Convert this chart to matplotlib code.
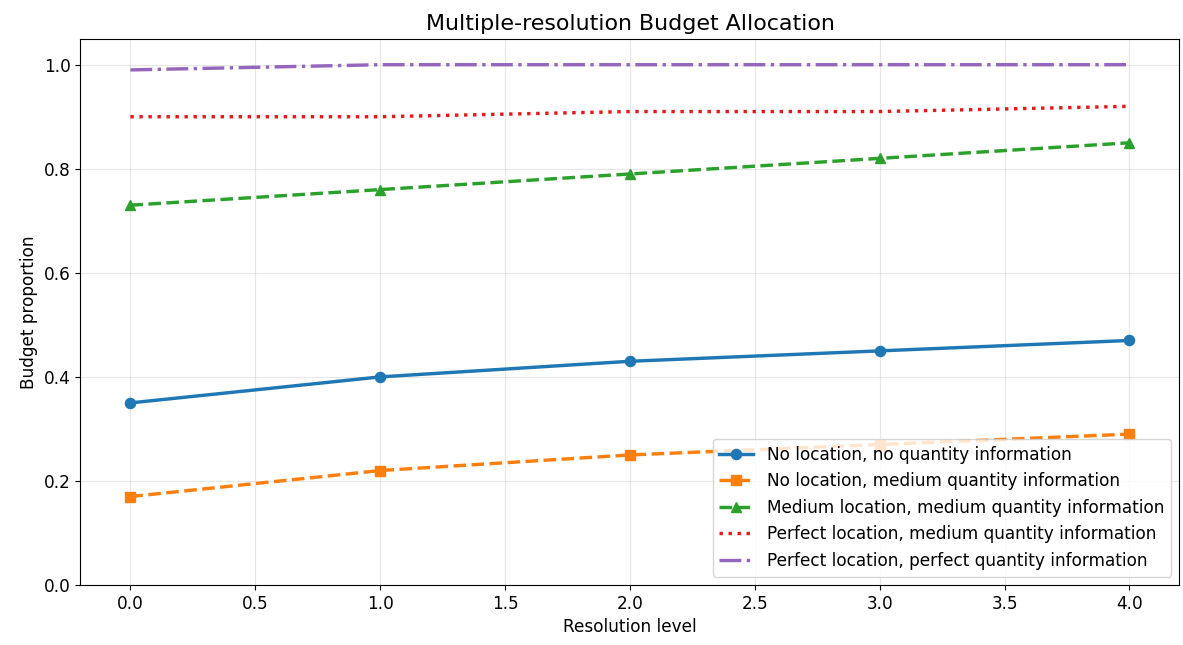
import matplotlib
matplotlib.use("Agg")
import matplotlib.pyplot as plt

# ── data ─────────────────────────────────────────────
levels = [0, 1, 2, 3, 4]
no_loc_no_qty = [0.35, 0.40, 0.43, 0.45, 0.47]
no_loc_med_qty = [0.17, 0.22, 0.25, 0.27, 0.29]
med_loc_med_qty = [0.73, 0.76, 0.79, 0.82, 0.85]
perf_loc_med_qty = [0.90, 0.90, 0.91, 0.91, 0.92]
perf_loc_perf_qty = [0.99, 1.00, 1.00, 1.00, 1.00]

plt.rcParams["font.size"] = 12.2

fig, ax = plt.subplots(figsize=(11.83, 6.45), dpi=100)
fig.subplots_adjust(left=0.068, right=0.997, top=0.94, bottom=0.093)

lw = 2.45
ms = 7.3
ax.plot(levels, no_loc_no_qty, "o-", color="#1f77b4", lw=lw, ms=ms,
        label="No location, no quantity information")
ax.plot(levels, no_loc_med_qty, "s--", color="#ff7f0e", lw=lw, ms=ms,
        label="No location, medium quantity information")
ax.plot(levels, med_loc_med_qty, "^--", color="#2ca02c", lw=lw, ms=ms,
        label="Medium location, medium quantity information")
ax.plot(levels, perf_loc_med_qty, ":", color="#e31a1c", lw=lw,
        label="Perfect location, medium quantity information")
ax.plot(levels, perf_loc_perf_qty, "-.", color="#9467bd", lw=lw,
        label="Perfect location, perfect quantity information")

ax.set_title("Multiple-resolution Budget Allocation", fontsize=15.9)
ax.set_xlabel("Resolution level")
ax.set_ylabel("Budget proportion")
ax.set_ylim(0, 1.05)
ax.grid(True, alpha=0.3)
ax.legend(loc="lower right")

plt.savefig("out.png", dpi=100)
